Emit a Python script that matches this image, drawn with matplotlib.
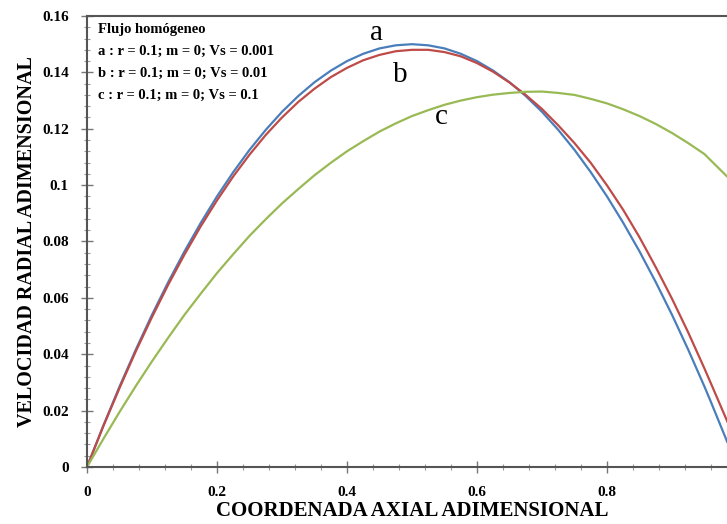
import matplotlib.pyplot as plt
from matplotlib.ticker import MultipleLocator, FixedLocator, FuncFormatter

plt.rcParams['font.family'] = ['Liberation Serif', 'DejaVu Serif']

# coordenada axial adimensional
x = [0.0, 0.025, 0.05, 0.075, 0.10, 0.125, 0.15, 0.175, 0.20, 0.225, 0.25, 0.275,
     0.30, 0.325, 0.35, 0.375, 0.40, 0.425, 0.45, 0.475, 0.50, 0.525, 0.55, 0.575,
     0.60, 0.625, 0.65, 0.675, 0.70, 0.725, 0.75, 0.775, 0.80, 0.825, 0.85, 0.875,
     0.90, 0.925, 0.95, 0.96, 0.985]

# a : Vs = 0.001
vel_a = [0.0, 0.0146, 0.0285, 0.0416, 0.0540, 0.0656, 0.0765, 0.0866, 0.0960, 0.1046,
         0.1125, 0.1196, 0.1260, 0.1316, 0.1365, 0.1406, 0.1440, 0.1466, 0.1485, 0.1496,
         0.1500, 0.1496, 0.1485, 0.1466, 0.1440, 0.1406, 0.1365, 0.1316, 0.1260, 0.1196,
         0.1125, 0.1046, 0.0960, 0.0866, 0.0765, 0.0656, 0.0540, 0.0416, 0.0285, 0.0230,
         0.0089]
# b : Vs = 0.01
vel_b = [0.0, 0.0144, 0.0280, 0.0410, 0.0532, 0.0647, 0.0754, 0.0854, 0.0946, 0.1031,
         0.1108, 0.1178, 0.1240, 0.1295, 0.1342, 0.1383, 0.1416, 0.1443, 0.1462, 0.1475,
         0.1480, 0.1480, 0.1472, 0.1457, 0.1433, 0.1402, 0.1364, 0.1320, 0.1270, 0.1212,
         0.1149, 0.1079, 0.0999, 0.0912, 0.0815, 0.0709, 0.0597, 0.0477, 0.0349, 0.0296,
         0.0162]
# c : Vs = 0.1
vel_c = [0.0, 0.0099, 0.0195, 0.0287, 0.0375, 0.0459, 0.0540, 0.0615, 0.0688, 0.0755,
         0.0820, 0.0879, 0.0935, 0.0986, 0.1035, 0.1079, 0.1120, 0.1156, 0.1190, 0.1219,
         0.1245, 0.1266, 0.1285, 0.1300, 0.1312, 0.1321, 0.1327, 0.1331, 0.1332, 0.1327,
         0.1320, 0.1306, 0.1290, 0.1269, 0.1245, 0.1217, 0.1185, 0.1149, 0.1110, 0.1087,
         0.1030]

leyenda = ['Flujo homógeneo',
           'a : r = 0.1; m = 0; Vs = 0.001',
           'b : r = 0.1; m = 0; Vs = 0.01',
           'c : r = 0.1; m = 0; Vs = 0.1']

fig = plt.figure(figsize=(7.27, 5.24), dpi=100)
# el eje llega hasta x = 1, un poco más allá del borde derecho de la figura
ax = fig.add_axes([87 / 727, 57 / 524, 650 / 727, 451 / 524])

ax.plot(x, vel_a, color='#4a7ebb', lw=1.6)
ax.plot(x, vel_b, color='#be4b48', lw=1.6)
ax.plot(x, vel_c, color='#98b954', lw=1.6)

ax.set_xlim(0, 1)
ax.set_ylim(0, 0.16)

ax.xaxis.set_major_locator(FixedLocator([0, 0.2, 0.4, 0.6, 0.8]))
ax.xaxis.set_minor_locator(MultipleLocator(0.04))
ax.yaxis.set_major_locator(FixedLocator([0, 0.02, 0.04, 0.06, 0.08, 0.1, 0.12, 0.14, 0.16]))
ax.yaxis.set_minor_locator(MultipleLocator(0.004))
fmt = FuncFormatter(lambda v, pos: '%g' % round(v, 3))
ax.xaxis.set_major_formatter(fmt)
ax.yaxis.set_major_formatter(fmt)

ax.tick_params(which='major', direction='inout', length=8, width=1, color='#777777',
               labelsize=11)
ax.tick_params(axis='x', which='major', pad=10)
ax.tick_params(axis='y', which='major', pad=9)
ax.tick_params(which='minor', direction='inout', length=5, width=0.8, color='#999999')
for lbl in ax.get_xticklabels() + ax.get_yticklabels():
    lbl.set_fontweight('bold')

for lado in ['left', 'bottom', 'top']:
    ax.spines[lado].set_color('#555555')
    ax.spines[lado].set_linewidth(1.5)
ax.spines['right'].set_visible(False)

ax.set_xlabel('COORDENADA AXIAL ADIMENSIONAL', fontsize=15, fontweight='bold', labelpad=1)
ax.set_ylabel('VELOCIDAD RADIAL ADIMENSIONAL', fontsize=14.5, fontweight='bold', labelpad=4)

# cuadro de texto con los parámetros
ys = [30, 51, 73, 95]
for txt, yp in zip(leyenda, ys):
    fig.text(98 / 727, 1 - yp / 524, txt, fontsize=10.5, fontweight='bold',
             ha='left', va='center')

# etiquetas de las curvas
ax.text(0.446, 0.154, 'a', fontsize=21, ha='center', va='center')
ax.text(0.482, 0.139, 'b', fontsize=21, ha='center', va='center')
ax.text(0.545, 0.124, 'c', fontsize=21, ha='center', va='center')

fig.savefig('out.png', dpi=100)
